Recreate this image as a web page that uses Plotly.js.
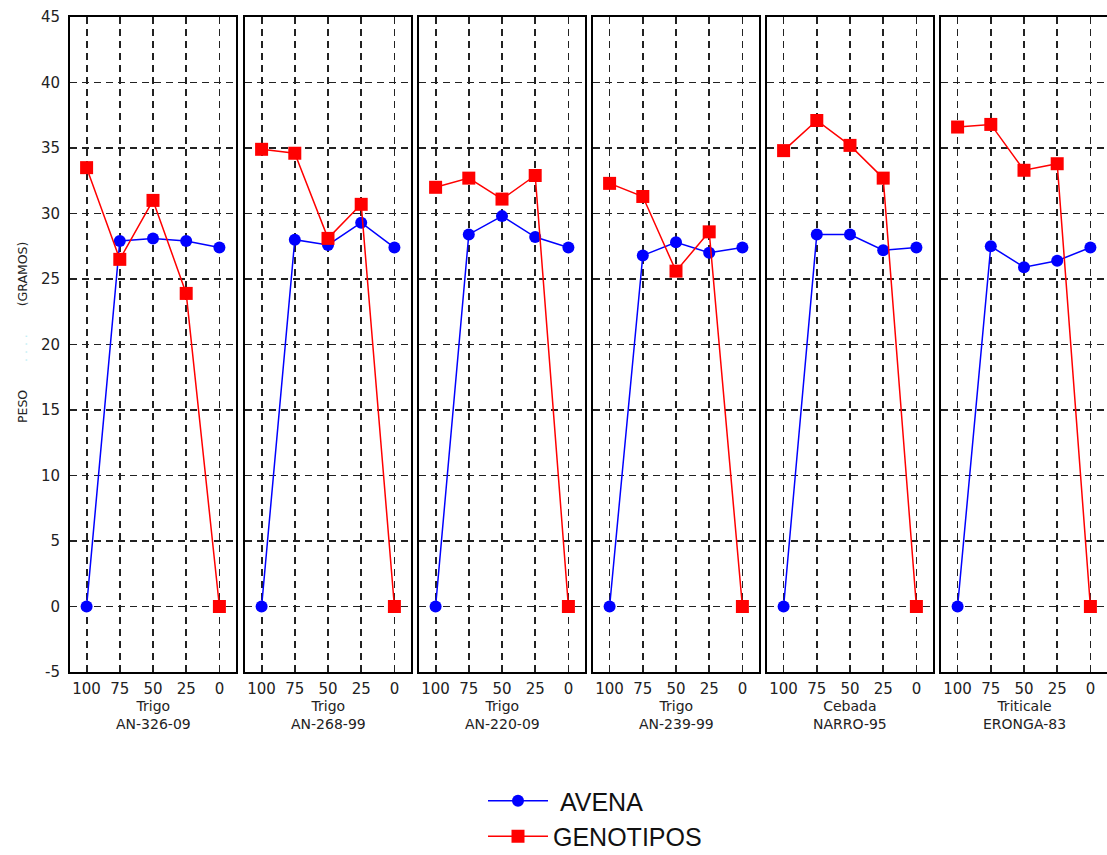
<!DOCTYPE html>
<html>
<head>
<meta charset="utf-8">
<script src="https://cdn.plot.ly/plotly-3.0.1.min.js"></script>
<style>html,body{margin:0;padding:0;background:#fff;}#chart{width:1107px;height:855px;}</style>
</head>
<body>
<div id="chart"></div>
<script>
// ---- data ----
const doses = ['100', '75', '50', '25', '0'];
const panelCrop = ['Trigo', 'Trigo', 'Trigo', 'Trigo', 'Cebada', 'Triticale'];
const panelGenotype = ['AN-326-09', 'AN-268-99', 'AN-220-09', 'AN-239-99', 'NARRO-95', 'ERONGA-83'];
const avenaP1 = [0, 27.9, 28.1, 27.9, 27.4];
const avenaP2 = [0, 28.0, 27.6, 29.3, 27.4];
const avenaP3 = [0, 28.4, 29.8, 28.2, 27.4];
const avenaP4 = [0, 26.8, 27.8, 27.0, 27.4];
const avenaP5 = [0, 28.4, 28.4, 27.2, 27.4];
const avenaP6 = [0, 27.5, 25.9, 26.4, 27.4];
const genoP1 = [33.5, 26.5, 31.0, 23.9, 0];
const genoP2 = [34.9, 34.6, 28.1, 30.7, 0];
const genoP3 = [32.0, 32.7, 31.1, 32.9, 0];
const genoP4 = [32.3, 31.3, 25.6, 28.6, 0];
const genoP5 = [34.8, 37.1, 35.2, 32.7, 0];
const genoP6 = [36.6, 36.8, 33.3, 33.8, 0];
const yTicks = [-5, 0, 5, 10, 15, 20, 25, 30, 35, 40, 45];
const yTickText = ['-5', '0', '5', '10', '15', '20', '25', '30', '35', '40', '45'];
const seriesNames = ['\u00a0AVENA', 'GENOTIPOS'];

const avena = [avenaP1, avenaP2, avenaP3, avenaP4, avenaP5, avenaP6];
const geno = [genoP1, genoP2, genoP3, genoP4, genoP5, genoP6];

// ---- layout helpers ----
const W = 1107, H = 855, L = 70, R = 0, T = 17, B = 183;
const plotW = W - L - R;
const plotH = H - T - B;
const panelStarts = [70, 245, 419, 593, 767, 941];
const panelWidth = 166;

const traces = [];
const layout = {
  width: W, height: H,
  margin: {l: L, r: R, t: T, b: B, pad: 0, autoexpand: false},
  paper_bgcolor: '#fff', plot_bgcolor: '#fff',
  font: {family: 'DejaVu Sans, sans-serif', color: '#111'},
  showlegend: true,
  legend: {
    x: (483 - L) / plotW, xanchor: 'left',
    y: (T + plotH - 778) / plotH, yanchor: 'top',
    font: {family: 'Liberation Sans, Arial, sans-serif', size: 25, color: '#111'},
    itemwidth: 60, tracegroupgap: 0,
    bgcolor: 'rgba(0,0,0,0)'
  },
  annotations: [],
};

for (let i = 0; i < 6; i++) {
  const xs = i === 0 ? '' : String(i + 1);
  const d0 = (panelStarts[i] - L) / plotW;
  const d1 = Math.min(1, (panelStarts[i] + panelWidth - L) / plotW);
  layout['xaxis' + xs] = {
    domain: [d0, d1], anchor: 'y' + xs,
    type: 'category', categoryorder: 'array', categoryarray: doses,
    range: [-0.5, 4.5], fixedrange: true,
    showgrid: true, gridcolor: '#222', griddash: '7px,5px', gridwidth: 1.8,
    showline: true, linecolor: '#000', linewidth: 2, mirror: true,
    ticks: '', zeroline: false, ticklabelstandoff: 2,
    tickfont: {size: 15, color: '#222'}
  };
  layout['yaxis' + xs] = {
    domain: [0, 1], anchor: 'x' + xs,
    range: [-5, 45], tickvals: yTicks, ticktext: yTickText, fixedrange: true,
    showgrid: true, gridcolor: '#222', griddash: '7px,5px', gridwidth: 1.8,
    showline: true, linecolor: '#000', linewidth: 2, mirror: true,
    zeroline: false, ticks: '', ticklabelstandoff: 5,
    showticklabels: i === 0,
    tickfont: {size: 15, color: '#222'}
  };
  if (i > 0) layout['yaxis' + xs].matches = 'y';
  traces.push({
    type: 'scatter', mode: 'lines+markers',
    x: doses, y: avena[i], xaxis: 'x' + xs, yaxis: 'y' + xs,
    name: seriesNames[0], legendgroup: 'a', showlegend: i === 0,
    line: {color: '#0000ff', width: 1.5},
    marker: {symbol: 'circle', size: 12, color: '#0000ff'},
    cliponaxis: false
  });
  traces.push({
    type: 'scatter', mode: 'lines+markers',
    x: doses, y: geno[i], xaxis: 'x' + xs, yaxis: 'y' + xs,
    name: seriesNames[1], legendgroup: 'g', showlegend: i === 0,
    line: {color: '#ff0000', width: 1.5},
    marker: {symbol: 'square', size: 13, color: '#ff0000'},
    cliponaxis: false
  });
  layout.annotations.push({
    xref: 'paper', yref: 'paper',
    x: (panelStarts[i] + panelWidth / 2 - L) / plotW, y: -0.037,
    xanchor: 'center', yanchor: 'top', showarrow: false,
    text: panelCrop[i] + '<br>' + panelGenotype[i],
    font: {size: 14, color: '#222'}
  });
}

const gap = '\u00a0'.repeat(7);
layout.annotations.push({
  xref: 'paper', yref: 'paper',
  x: (22 - L) / plotW, y: (T + plotH - 333) / plotH,
  xanchor: 'center', yanchor: 'middle', showarrow: false, textangle: -90,
  text: 'PESO' + gap + '<span style="color:#bdeef4">. . . .</span>' + gap + '(GRAMOS)',
  font: {size: 12.5, color: '#222'}
});

Plotly.newPlot('chart', traces, layout, {staticPlot: true});
</script>
</body>
</html>
